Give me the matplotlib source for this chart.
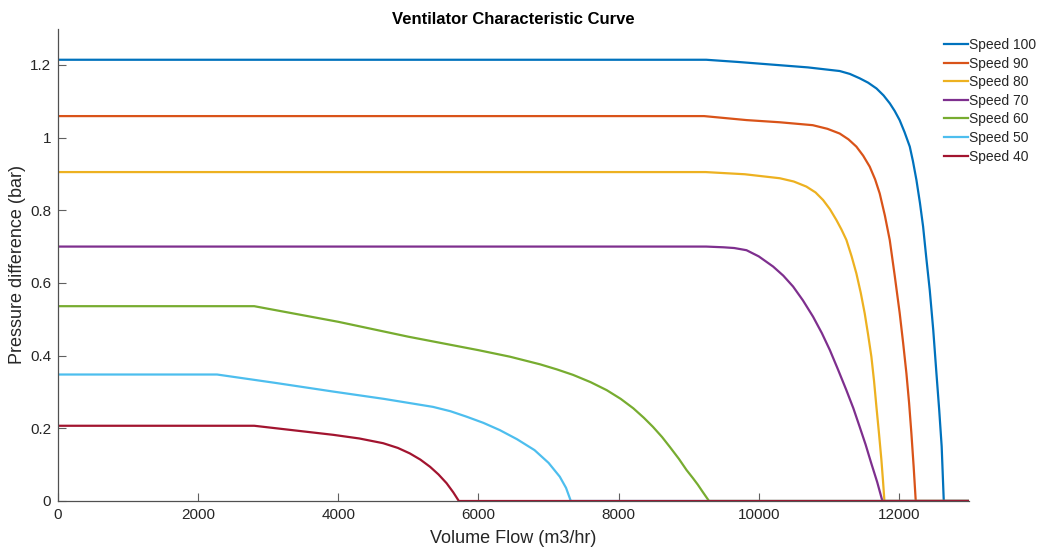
import matplotlib
matplotlib.use("Agg")
import matplotlib.pyplot as plt

plt.rcParams['font.family'] = ['Liberation Sans', 'DejaVu Sans']

# ---- data ----
labels = ["Speed 100", "Speed 90", "Speed 80", "Speed 70", "Speed 60", "Speed 50", "Speed 40"]
colors = ["#0072BD", "#D95319", "#EDB120", "#7E2F8E", "#77AC30", "#4DBEEE", "#A2142F"]

flow_100 = [0, 9250, 9700, 10300, 10700, 11155, 11300, 11440, 11560, 11680, 11780, 11870, 11940,
            12010, 12080, 12155, 12200, 12250, 12300, 12345, 12390, 12440, 12490, 12535, 12575,
            12610, 12640, 13000]
pres_100 = [1.214, 1.214, 1.208, 1.199, 1.193, 1.183, 1.175, 1.163, 1.151, 1.135, 1.116, 1.094, 1.073,
            1.048, 1.015, 0.975, 0.935, 0.883, 0.820, 0.755, 0.670, 0.580, 0.470, 0.352, 0.250,
            0.150, 0.0, 0.0]

flow_90 = [0, 9220, 9825, 10300, 10770, 10980, 11155, 11280, 11393, 11490, 11583, 11660, 11726,
           11800, 11869, 11940, 12011, 12060, 12107, 12145, 12178, 12210, 12240, 13000]
pres_90 = [1.059, 1.059, 1.048, 1.042, 1.034, 1.024, 1.011, 0.995, 0.975, 0.950, 0.920, 0.885, 0.846,
           0.785, 0.718, 0.620, 0.517, 0.435, 0.351, 0.270, 0.186, 0.095, 0.0, 0.0]

flow_80 = [0, 9240, 9800, 10300, 10500, 10680, 10810, 10918, 11015, 11108, 11180, 11251, 11325,
           11393, 11455, 11512, 11560, 11607, 11645, 11679, 11715, 11750, 11773, 11793, 13000]
pres_80 = [0.905, 0.905, 0.899, 0.888, 0.879, 0.865, 0.849, 0.828, 0.803, 0.773, 0.747, 0.718, 0.673,
           0.626, 0.573, 0.516, 0.458, 0.397, 0.330, 0.259, 0.187, 0.113, 0.055, 0.0, 0.0]

flow_70 = [0, 9250, 9500, 9650, 9825, 10000, 10205, 10350, 10490, 10630, 10775, 10900, 11015,
           11130, 11250, 11350, 11440, 11525, 11605, 11690, 11764, 13000]
pres_70 = [0.700, 0.700, 0.698, 0.696, 0.690, 0.673, 0.645, 0.620, 0.590, 0.552, 0.507, 0.462, 0.415,
           0.362, 0.305, 0.255, 0.204, 0.155, 0.104, 0.052, 0.0, 0.0]

flow_60 = [0, 2800, 4000, 5000, 6000, 6450, 6880, 7120, 7350, 7600, 7830, 8030, 8210, 8360, 8490,
           8620, 8730, 8860, 8970, 9060, 9130, 9200, 9290, 13000]
pres_60 = [0.536, 0.536, 0.493, 0.452, 0.415, 0.397, 0.376, 0.362, 0.347, 0.327, 0.305, 0.281, 0.255,
           0.229, 0.204, 0.176, 0.149, 0.116, 0.085, 0.063, 0.045, 0.025, 0.0, 0.0]

flow_50 = [0, 2270, 3100, 3930, 4650, 5350, 5600, 5830, 6070, 6305, 6550, 6800, 7000, 7160, 7250,
           7318, 13000]
pres_50 = [0.348, 0.348, 0.325, 0.301, 0.281, 0.259, 0.247, 0.232, 0.215, 0.195, 0.170, 0.140, 0.105,
           0.067, 0.036, 0.0, 0.0]

flow_40 = [0, 2800, 3930, 4300, 4640, 4850, 5020, 5170, 5310, 5430, 5545, 5640, 5720, 13000]
pres_40 = [0.207, 0.207, 0.182, 0.172, 0.159, 0.146, 0.131, 0.114, 0.094, 0.073, 0.049, 0.024, 0.0, 0.0]

flows = [flow_100, flow_90, flow_80, flow_70, flow_60, flow_50, flow_40]
pressures = [pres_100, pres_90, pres_80, pres_70, pres_60, pres_50, pres_40]

x_ticks = [0, 2000, 4000, 6000, 8000, 10000, 12000]
y_ticks = [0, 0.2, 0.4, 0.6, 0.8, 1.0, 1.2]
y_ticklabels = ["0", "0.2", "0.4", "0.6", "0.8", "1", "1.2"]

# ---- figure ----
W, H = 1044, 557
fig = plt.figure(figsize=(W / 100, H / 100), dpi=100)
ax = fig.add_axes([58 / W, 1 - 501 / H, (969 - 58) / W, (501 - 28.5) / H])

for fx, py, lab, col in zip(flows, pressures, labels, colors):
    ax.plot(fx, py, color=col, lw=1.6, label=lab, solid_joinstyle='round')

ax.set_xlim(0, 13000)
ax.set_ylim(0, 1.3)
ax.set_xticks(x_ticks)
ax.set_xticklabels([str(t) for t in x_ticks])
ax.set_yticks(y_ticks)
ax.set_yticklabels(y_ticklabels)

for s in ['top', 'right']:
    ax.spines[s].set_visible(False)
for s in ['left', 'bottom']:
    ax.spines[s].set_color('#505050')
    ax.spines[s].set_linewidth(0.9)
ax.tick_params(direction='in', length=6, width=0.8, color='#606060',
               labelsize=11, labelcolor='#262626', pad=5)

ax.set_xlabel("Volume Flow (m3/hr)", fontsize=13, color='#262626', labelpad=6)
ax.set_ylabel("Pressure difference (bar)", fontsize=13, color='#262626', labelpad=3)
ax.set_title("Ventilator Characteristic Curve", fontsize=12, fontweight='bold', color='#000000', pad=3)

leg = fig.legend(loc='upper left', bbox_to_anchor=(944 / W, 1 - 38 / H),
                 frameon=False, fontsize=10, handlelength=1.7, handletextpad=0.1,
                 labelspacing=0.33, borderpad=0, borderaxespad=0)
for t in leg.get_texts():
    t.set_color('#262626')

fig.savefig("out.png", dpi=100)
